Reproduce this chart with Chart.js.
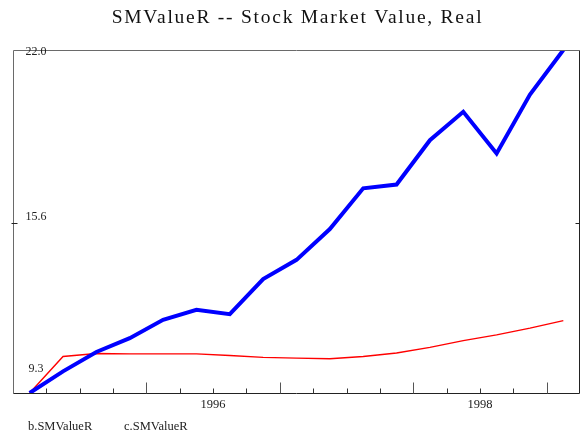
<!DOCTYPE html>
<html>
<head>
<meta charset="utf-8">
<script src="https://cdn.jsdelivr.net/npm/chart.js@4.4.0/dist/chart.umd.min.js"></script>
<style>
  html, body { margin: 0; padding: 0; background: #fff; }
  canvas { display: block; }
</style>
</head>
<body>
<canvas id="chart" width="581" height="438"></canvas>
<script>
const chartTitle = "SMValueR -- Stock Market Value, Real";

const quarters = [
  "1995Q1", "1995Q2", "1995Q3", "1995Q4",
  "1996Q1", "1996Q2", "1996Q3", "1996Q4",
  "1997Q1", "1997Q2", "1997Q3", "1997Q4",
  "1998Q1", "1998Q2", "1998Q3", "1998Q4",
  "1999Q1"
];

const bSMValueR = [
  9.30, 10.10, 10.82, 11.33, 12.01, 12.38, 12.22, 13.52, 14.23,
  15.37, 16.88, 17.02, 18.66, 19.71, 18.17, 20.35, 22.00
];

const cSMValueR = [
  9.30, 10.65, 10.76, 10.75, 10.75, 10.75, 10.69, 10.62, 10.59,
  10.57, 10.65, 10.78, 10.99, 11.24, 11.45, 11.70, 11.98
];

const yTicks = [9.3, 15.6, 22.0];
const yearLabels = ["1996", "1998"];

const serif = '"Liberation Serif", "Times New Roman", serif';

// axes, frame, titles and legend text are painted by hand: ticks point inward
const framePlugin = {
  id: "frame",
  afterDraw(chart) {
    const ctx = chart.ctx;
    const area = chart.chartArea;
    const xs = chart.scales.x;
    const ys = chart.scales.y;
    const L = Math.round(area.left) + 0.5;
    const R = Math.round(area.right) - 0.5;
    const T = Math.round(area.top) + 0.5;
    const B = Math.round(area.bottom) + 0.5;

    ctx.save();
    ctx.lineWidth = 1;

    // box
    ctx.strokeStyle = "#6a6a6a";
    ctx.beginPath();
    ctx.moveTo(L, B); ctx.lineTo(L, T); ctx.lineTo(R, T);
    ctx.stroke();
    ctx.strokeStyle = "#222";
    ctx.beginPath();
    ctx.moveTo(R, T); ctx.lineTo(R, B); ctx.lineTo(L, B);
    ctx.stroke();

    // quarter ticks between points, longer ones at year boundaries
    for (let i = 0; i < quarters.length - 1; i++) {
      const px = Math.round((xs.getPixelForValue(i) + xs.getPixelForValue(i + 1)) / 2) + 0.5;
      const yearEnd = quarters[i].endsWith("Q4");
      ctx.strokeStyle = yearEnd ? "#555" : "#333";
      ctx.beginPath();
      ctx.moveTo(px, B);
      ctx.lineTo(px, B - (yearEnd ? 11 : 5));
      ctx.stroke();
    }

    // y ticks on both sides
    ctx.strokeStyle = "#222";
    yTicks.forEach(v => {
      const py = Math.round(ys.getPixelForValue(v)) + 0.5;
      if (py - 1 <= T || py + 1 >= B) return;
      ctx.beginPath();
      ctx.moveTo(L - 2, py); ctx.lineTo(L + 4, py);
      ctx.moveTo(R - 4, py); ctx.lineTo(R, py);
      ctx.stroke();
    });

    ctx.fillStyle = "#222";
    ctx.font = "12px " + serif;
    ctx.textAlign = "center";
    ctx.textBaseline = "middle";

    // y labels sit just above their tick, kept inside the box
    yTicks.forEach(v => {
      const py = ys.getPixelForValue(v);
      const ly = Math.min(Math.max(py - 6, area.top + 2), area.bottom - 24);
      ctx.fillText(v.toFixed(1), area.left + 23, ly);
    });

    // year labels centred on each labelled year
    ctx.font = "12.5px " + serif;
    yearLabels.forEach(yr => {
      const first = quarters.indexOf(yr + "Q1");
      const last = quarters.indexOf(yr + "Q4");
      const px = (xs.getPixelForValue(first) + xs.getPixelForValue(last)) / 2;
      ctx.fillText(yr, px, B + 11);
    });

    // series names along the bottom
    ctx.font = "12.5px " + serif;
    ctx.textAlign = "left";
    chart.data.datasets.forEach((ds, i) => {
      ctx.fillText(ds.label, 28 + i * 96, 426.5);
    });

    // title
    ctx.font = "19.5px " + serif;
    ctx.letterSpacing = "1.75px";
    ctx.textAlign = "center";
    ctx.textBaseline = "alphabetic";
    ctx.fillStyle = "#111";
    ctx.fillText(chartTitle, (area.left + area.right) / 2 + 1, 23);
    ctx.restore();
  }
};

new Chart(document.getElementById("chart"), {
  type: "line",
  data: {
    labels: quarters,
    datasets: [
      {
        label: "b.SMValueR",
        data: bSMValueR,
        borderColor: "#0000ff",
        borderWidth: 4,
        pointRadius: 0,
        tension: 0
      },
      {
        label: "c.SMValueR",
        data: cSMValueR,
        borderColor: "#ff0000",
        borderWidth: 1.4,
        pointRadius: 0,
        tension: 0
      }
    ]
  },
  options: {
    responsive: false,
    animation: false,
    devicePixelRatio: 1,
    layout: { padding: { left: 13, top: 50, right: 1, bottom: 45 } },
    plugins: {
      legend: { display: false },
      title: { display: false },
      tooltip: { enabled: false }
    },
    scales: {
      x: { type: "category", offset: true, display: false },
      y: { min: 9.3, max: 22.0, display: false }
    }
  },
  plugins: [framePlugin]
});
</script>
</body>
</html>
